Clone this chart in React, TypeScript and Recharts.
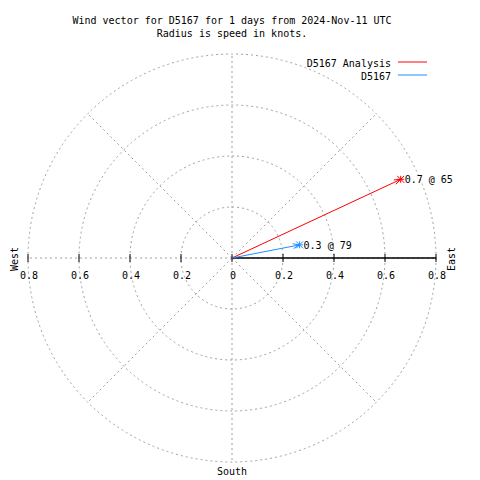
import React from 'react';
import {
  ScatterChart, Scatter, XAxis, YAxis, ReferenceLine, ReferenceDot,
  RadarChart, PolarGrid, PolarAngleAxis, PolarRadiusAxis, Radar,
} from 'recharts';

const titleLines = ['Wind vector for D5167 for 1 days from 2024-Nov-11 UTC', 'Radius is speed in knots.'];
const seriesNames = ['D5167 Analysis', 'D5167'];
const seriesColors = ['#ff0000', '#1e90ff'];
const speeds = [0.73, 0.27];
const directions = [65, 79];
const tickValues = [-0.8, -0.6, -0.4, -0.2, 0, 0.2, 0.4, 0.6, 0.8];
const tickLabels = ['0.8', '0.6', '0.4', '0.2', '0', '0.2', '0.4', '0.6', '0.8'];
const ringValues = [0.2, 0.4, 0.6, 0.8];
const compassPoints = ['N', 'NE', 'E', 'SE', 'S', 'SW', 'W', 'NW'];
const compassBase = compassPoints.map((c) => ({ dir: c, zero: 0 }));

const MAX_SPEED = 0.8;
const OUTER = 204;
const FONT = '"DejaVu Sans Mono", "Liberation Mono", monospace';
const GRID = '#a0a0a0';

const vectors = speeds.map((s, i) => {
  const rad = (directions[i] * Math.PI) / 180;
  return [
    { x: 0, y: 0, tip: false, dir: directions[i], label: '' },
    {
      x: s * Math.sin(rad),
      y: s * Math.cos(rad),
      tip: true,
      dir: directions[i],
      label: `${s.toFixed(1)} @ ${directions[i]}`,
    },
  ];
});

const makeTip = (color: string) => (props: any) => {
  const { cx, cy, payload } = props;
  if (!payload || !payload.tip) return <g />;
  const rad = (payload.dir * Math.PI) / 180;
  const sx = Math.sin(rad);
  const sy = -Math.cos(rad);
  const back = Math.atan2(-sy, -sx);
  const L = 7;
  const a1 = back + 0.35;
  const a2 = back - 0.35;
  const s = 3.5;
  return (
    <g>
      <line x1={cx} y1={cy} x2={cx + L * Math.cos(a1)} y2={cy + L * Math.sin(a1)} stroke={color} strokeWidth={1} />
      <line x1={cx} y1={cy} x2={cx + L * Math.cos(a2)} y2={cy + L * Math.sin(a2)} stroke={color} strokeWidth={1} />
      <line x1={cx - s} y1={cy} x2={cx + s} y2={cy} stroke={color} strokeWidth={1} />
      <line x1={cx} y1={cy - s} x2={cx} y2={cy + s} stroke={color} strokeWidth={1} />
      <line x1={cx - s} y1={cy - s} x2={cx + s} y2={cy + s} stroke={color} strokeWidth={1} />
      <line x1={cx - s} y1={cy + s} x2={cx + s} y2={cy - s} stroke={color} strokeWidth={1} />
      <text x={cx + 4} y={cy + 4} fontFamily={FONT} fontSize={10} fill="#000">{payload.label}</text>
    </g>
  );
};

const makeTick = (label: string) => (props: any) => {
  const { cx, cy } = props;
  return (
    <g>
      <line x1={cx} y1={cy - 4} x2={cx} y2={cy + 4} stroke="#000" strokeWidth={1} />
      <text x={cx + 1} y={cy + 21} textAnchor="middle" fontFamily={FONT} fontSize={10} fill="#000">
        {label}
      </text>
    </g>
  );
};

export default function App() {
  return (
    <div style={{ position: 'absolute', left: 0, top: 0, width: 480, height: 480, background: '#fff' }}>
      <div style={{ position: 'absolute', left: 0, top: 0 }}>
        <RadarChart width={480} height={480} data={compassBase} cx={232} cy={258} outerRadius={OUTER}
          margin={{ top: 0, right: 0, bottom: 0, left: 0 }}>
          <PolarGrid gridType="circle" stroke={GRID} strokeDasharray="2 3"
            polarRadius={ringValues.map((r) => (r / MAX_SPEED) * OUTER)} />
          <PolarAngleAxis dataKey="dir" tick={false} axisLine={false} />
          <PolarRadiusAxis type="number" domain={[0, MAX_SPEED]} tickCount={5} tick={false} axisLine={false} />
          <Radar dataKey="zero" stroke="none" fill="none" isAnimationActive={false} />
        </RadarChart>
      </div>
      <div style={{ position: 'absolute', left: 0, top: 0 }}>
        <ScatterChart width={480} height={480} margin={{ top: 54, right: 44, bottom: 18, left: 28 }}>
          <XAxis type="number" dataKey="x" domain={[-MAX_SPEED, MAX_SPEED]} hide />
          <YAxis type="number" dataKey="y" domain={[-MAX_SPEED, MAX_SPEED]} hide />
          <ReferenceLine segment={[{ x: 0, y: 0 }, { x: MAX_SPEED, y: 0 }]} stroke="#000" strokeWidth={1.5} />
          {tickValues.map((v, i) => (
            <ReferenceDot key={i} x={v} y={0} r={0} shape={makeTick(tickLabels[i])} />
          ))}
          {vectors.map((d, i) => (
            <Scatter key={i} name={seriesNames[i]} data={d} line={{ stroke: seriesColors[i], strokeWidth: 1 }}
              shape={makeTip(seriesColors[i])} isAnimationActive={false} />
          ))}
        </ScatterChart>
      </div>
      <svg width={480} height={480} style={{ position: 'absolute', left: 0, top: 0, pointerEvents: 'none' }}>
        {titleLines.map((t, i) => (
          <text key={i} x={232} y={24 + i * 13} textAnchor="middle" fontFamily={FONT} fontSize={10} fill="#000">{t}</text>
        ))}
        {seriesNames.map((n, i) => (
          <g key={i}>
            <text x={391} y={67 + i * 13} textAnchor="end" fontFamily={FONT} fontSize={10} fill="#000">{n}</text>
            <line x1={398} y1={62 + i * 13} x2={427} y2={62 + i * 13} stroke={seriesColors[i]} strokeWidth={1} />
          </g>
        ))}
        <text transform="translate(14,259) rotate(-90)" textAnchor="middle" dominantBaseline="central" fontFamily={FONT} fontSize={10} fill="#000">West</text>
        <text transform="translate(451,259) rotate(-90)" textAnchor="middle" dominantBaseline="central" fontFamily={FONT} fontSize={10} fill="#000">East</text>
        <text x={232} y={475} textAnchor="middle" fontFamily={FONT} fontSize={10} fill="#000">South</text>
      </svg>
    </div>
  );
}
